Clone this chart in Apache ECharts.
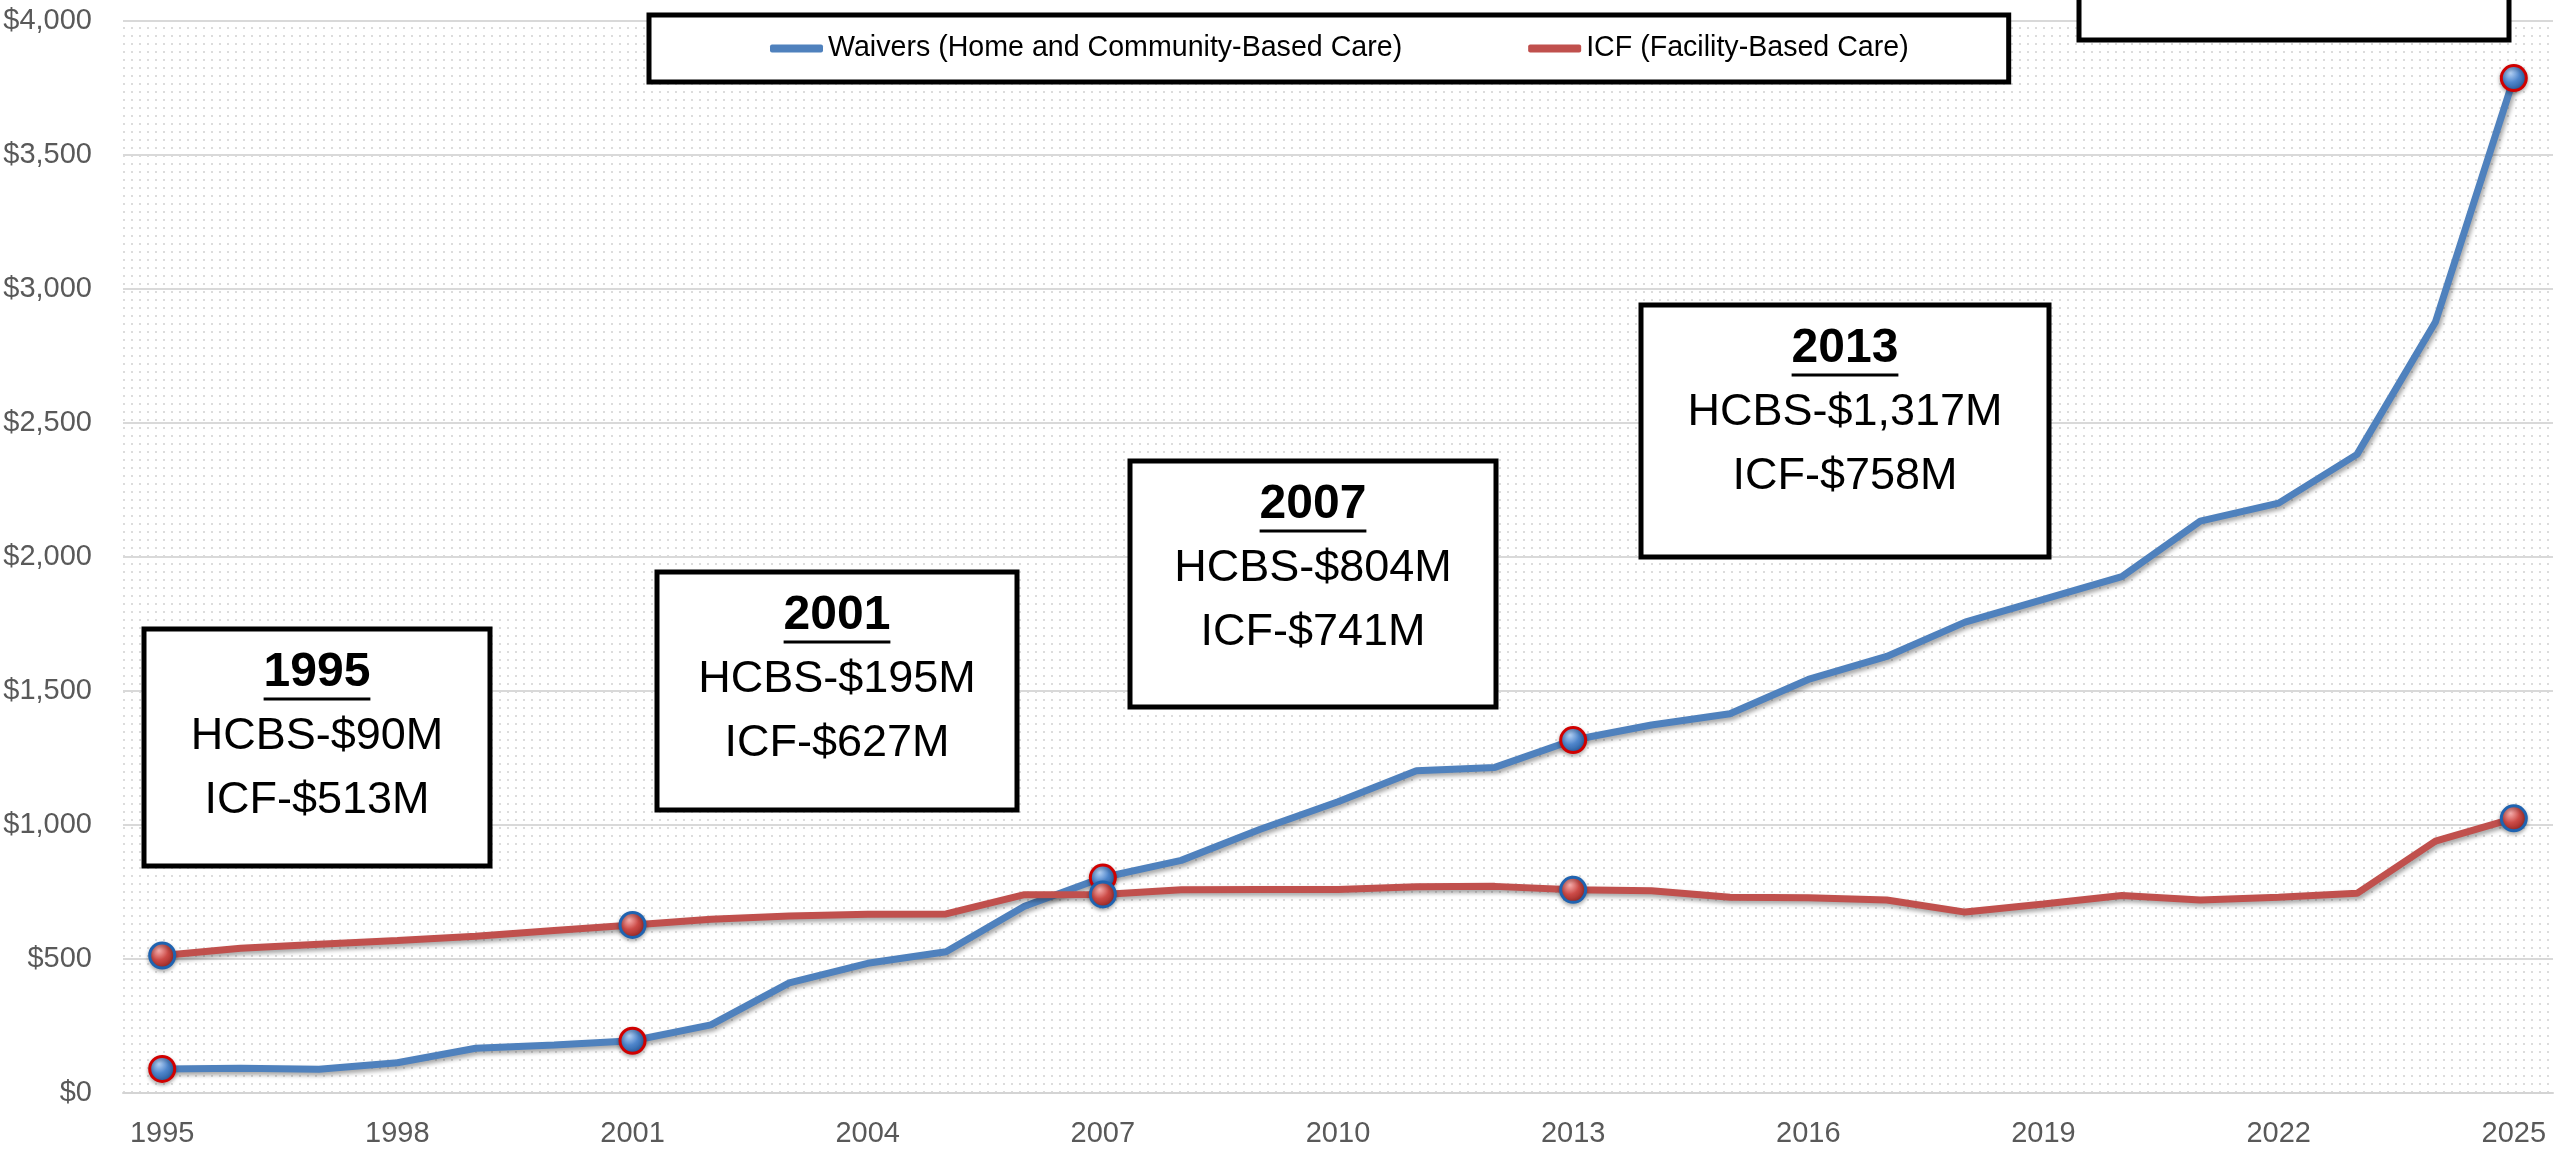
<!DOCTYPE html>
<html>
<head>
<meta charset="utf-8">
<script src="https://cdn.jsdelivr.net/npm/echarts@6/dist/echarts.min.js"></script>
<style>
  html, body { margin: 0; padding: 0; background: #fff; }
  #chart { width: 2560px; height: 1151px; }
</style>
</head>
<body>
<div id="chart"></div>
<script>
const years = [
  '1995', '1996', '1997', '1998', '1999', '2000', '2001', '2002', '2003', '2004', '2005',
  '2006', '2007', '2008', '2009', '2010', '2011', '2012', '2013', '2014', '2015',
  '2016', '2017', '2018', '2019', '2020', '2021', '2022', '2023', '2024', '2025',
]
// $ millions
const waivers = [
  90, 92, 89, 113, 167, 179, 195, 254, 411, 484, 527,
  697, 804, 868, 983, 1087, 1202, 1215, 1317, 1373, 1415,
  1543, 1629, 1757, 1842, 1927, 2134, 2201, 2383, 2877, 3787,
]
const icf = [
  513, 540, 555, 569, 585, 606, 627, 648, 660, 667, 668,
  740, 741, 758, 759, 759, 770, 771, 758, 755, 730,
  729, 720, 675, 705, 737, 720, 730, 745, 940, 1025,
]
const markerYears = ['1995', '2001', '2007', '2013', '2025']
const seriesNames = ['Waivers (Home and Community-Based Care)', 'ICF (Facility-Based Care)']

// note boxes: year heading + two lines
const noteYears = ['1995', '2001', '2007', '2013']
const noteHcbs = ['HCBS-$90M', 'HCBS-$195M', 'HCBS-$804M', 'HCBS-$1,317M']
const noteIcf = ['ICF-$513M', 'ICF-$627M', 'ICF-$741M', 'ICF-$758M']

// box layout [x, y, w, h] in px
const noteBoxes = [
  [144, 629, 346, 237],
  [657, 572, 360, 238],
  [1130, 461, 366, 246],
  [1641, 305, 408, 252],
]

const FONT = '"Liberation Sans", Arial, sans-serif'

// dotted plot background
const dot = document.createElement('canvas')
dot.width = 8
dot.height = 8
const dctx = dot.getContext('2d')
dctx.fillStyle = '#dcdcdc'
dctx.fillRect(3, 3, 2, 2)

const measure = document.createElement('canvas').getContext('2d')
function textWidth(txt, font) {
  measure.font = font
  return measure.measureText(txt).width
}

const blueBall = new echarts.graphic.RadialGradient(0.38, 0.32, 0.75, [
  { offset: 0, color: '#b5d2f5' },
  { offset: 0.45, color: '#4f86cc' },
  { offset: 1, color: '#1d4f8f' },
])
const redBall = new echarts.graphic.RadialGradient(0.38, 0.32, 0.75, [
  { offset: 0, color: '#f7b0ae' },
  { offset: 0.45, color: '#cc4b47' },
  { offset: 1, color: '#8a1f1c' },
])

const markerSymbol = (val, params) => (markerYears.includes(years[params.dataIndex]) ? 'circle' : 'none')

const graphics = []
noteBoxes.forEach((b, i) => {
  const [x, y, w, h] = b
  const cx = x + w / 2
  const boldFont = 'bold 48px ' + FONT
  const uw = textWidth(noteYears[i], boldFont)
  graphics.push(
    {
      type: 'rect',
      shape: { x, y, width: w, height: h },
      style: { fill: '#fff', stroke: '#000', lineWidth: 5 },
      z: 100,
    },
    {
      type: 'text',
      x: cx,
      y: y + 44,
      style: { text: noteYears[i], font: boldFont, fill: '#000', align: 'center', verticalAlign: 'middle' },
      z: 101,
    },
    {
      type: 'line',
      shape: { x1: cx - uw / 2, y1: y + 70, x2: cx + uw / 2, y2: y + 70 },
      style: { stroke: '#000', lineWidth: 3 },
      z: 101,
    },
    {
      type: 'text',
      x: cx,
      y: y + 108,
      style: { text: noteHcbs[i], font: '45px ' + FONT, fill: '#000', align: 'center', verticalAlign: 'middle' },
      z: 101,
    },
    {
      type: 'text',
      x: cx,
      y: y + 172,
      style: { text: noteIcf[i], font: '45px ' + FONT, fill: '#000', align: 'center', verticalAlign: 'middle' },
      z: 101,
    }
  )
})
// box cut off at the top edge
graphics.push({
  type: 'rect',
  shape: { x: 2079, y: -60, width: 430, height: 100 },
  style: { fill: '#fff', stroke: '#000', lineWidth: 5 },
  z: 100,
})

const chart = echarts.init(document.getElementById('chart'))

const option = {
  animation: false,
  grid: {
    left: 123,
    right: 7,
    top: 21,
    bottom: 58,
    show: true,
    borderWidth: 0,
    backgroundColor: { image: dot, repeat: 'repeat' },
  },
  legend: {
    left: 649,
    top: 15,
    padding: [19, 100, 19, 121],
    backgroundColor: '#fff',
    borderColor: '#000',
    borderWidth: 5,
    itemWidth: 53,
    itemHeight: 8,
    itemGap: 126,
    icon: 'roundRect',
    textStyle: { fontFamily: FONT, fontSize: 28.6, color: '#000' },
    data: [
      { name: seriesNames[0], itemStyle: { color: '#4f81bd', borderWidth: 0 } },
      { name: seriesNames[1], itemStyle: { color: '#c0504d', borderWidth: 0 } },
    ],
  },
  xAxis: {
    type: 'category',
    data: years,
    boundaryGap: true,
    axisLine: { lineStyle: { color: '#d4d4d4', width: 2 } },
    axisTick: { show: false },
    axisLabel: { interval: 2, fontFamily: FONT, fontSize: 29, color: '#595959', margin: 26 },
    splitLine: { show: false },
  },
  yAxis: {
    type: 'value',
    min: 0,
    max: 4000,
    interval: 500,
    axisLine: { show: false },
    axisTick: { show: false },
    axisLabel: {
      fontFamily: FONT,
      fontSize: 29,
      color: '#595959',
      margin: 31,
      formatter: (v) => '$' + v.toLocaleString('en-US'),
    },
    splitLine: { lineStyle: { color: '#d9d9d9', width: 2 } },
  },
  series: [
    {
      name: seriesNames[0],
      type: 'line',
      data: waivers,
      showAllSymbol: true,
      symbol: markerSymbol,
      symbolSize: 25,
      lineStyle: {
        color: '#4f81bd',
        width: 7,
        shadowColor: 'rgba(0,0,0,0.35)',
        shadowBlur: 4,
        shadowOffsetX: 2,
        shadowOffsetY: 3,
      },
      itemStyle: {
        color: blueBall,
        borderColor: '#d00000',
        borderWidth: 3,
        shadowColor: 'rgba(0,0,0,0.3)',
        shadowBlur: 4,
        shadowOffsetY: 2,
      },
      emphasis: { disabled: true },
      z: 3,
    },
    {
      name: seriesNames[1],
      type: 'line',
      data: icf,
      showAllSymbol: true,
      symbol: markerSymbol,
      symbolSize: 25,
      lineStyle: {
        color: '#c0504d',
        width: 7,
        shadowColor: 'rgba(0,0,0,0.35)',
        shadowBlur: 4,
        shadowOffsetX: 2,
        shadowOffsetY: 3,
      },
      itemStyle: {
        color: redBall,
        borderColor: '#1f63b0',
        borderWidth: 3,
        shadowColor: 'rgba(0,0,0,0.3)',
        shadowBlur: 4,
        shadowOffsetY: 2,
      },
      emphasis: { disabled: true },
      z: 4,
    },
  ],
  graphic: graphics,
}

chart.setOption(option)
</script>
</body>
</html>
